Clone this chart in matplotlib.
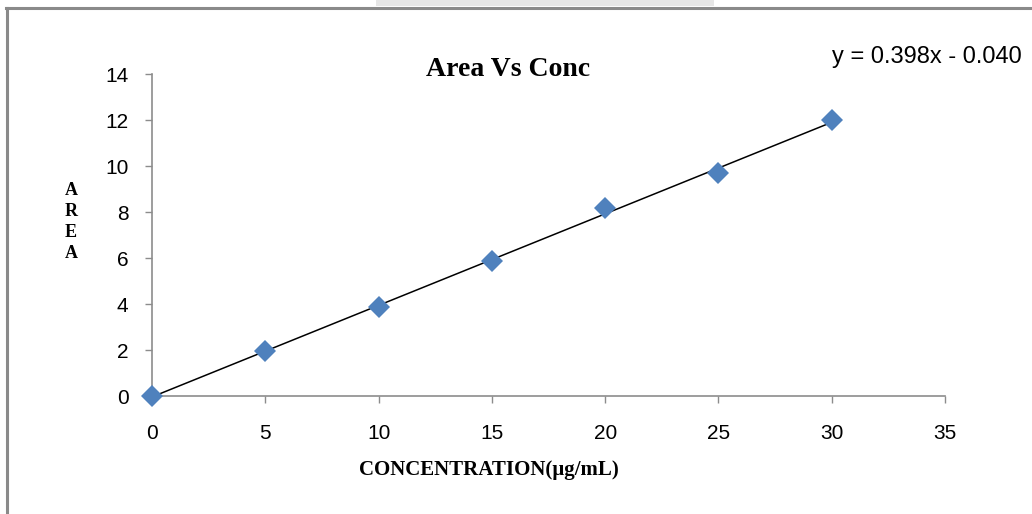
import matplotlib.pyplot as plt
import numpy as np
from matplotlib.lines import Line2D
from matplotlib.patches import Rectangle

plt.switch_backend("Agg")

# values
concentration = [0, 5, 10, 15, 20, 25, 30]
area = [0.0, 1.96, 3.87, 5.87, 8.17, 9.70, 12.0]
slope = 0.398
intercept = -0.040
x_ticks = [0, 5, 10, 15, 20, 25, 30, 35]
y_ticks = [0, 2, 4, 6, 8, 10, 12, 14]

SANS = "Liberation Sans"
SERIF = "Liberation Serif"
SPINE = "#8c8c8c"

fig = plt.figure(figsize=(10.32, 5.14), dpi=100)
ax = fig.add_axes([152 / 1032, 1 - 396 / 514, (945 - 152) / 1032, (396 - 74) / 514])

fit_x = np.array([concentration[0], concentration[-1]])
ax.plot(fit_x, slope * fit_x + intercept, color="black", linewidth=1.1, zorder=2)
ax.plot(concentration, area, linestyle="none", marker="D", markersize=11,
        color="#4f81bd", markeredgewidth=0, clip_on=False, zorder=3)

ax.set_xlim(0, 35)
ax.set_ylim(0, 14)
ax.set_xticks(x_ticks)
ax.set_yticks(y_ticks)
ax.set_xticklabels([str(v) for v in x_ticks], fontfamily=SANS, fontsize=15)
ax.set_yticklabels([str(v) for v in y_ticks], fontfamily=SANS, fontsize=15)
ax.tick_params(axis="x", direction="out", length=5, width=1, color=SPINE, pad=15)
ax.tick_params(axis="y", direction="out", length=5, width=1, color=SPINE, pad=12)
for side in ("top", "right"):
    ax.spines[side].set_visible(False)
for side in ("left", "bottom"):
    ax.spines[side].set_color(SPINE)
    ax.spines[side].set_linewidth(1.2)

fig.text(508 / 1032, 1 - 70 / 514, "Area Vs Conc", ha="center", va="center",
         fontfamily=SERIF, fontweight="bold", fontsize=20)
fig.text(1022 / 1032, 1 - 57 / 514, "y = 0.398x - 0.040", ha="right", va="center",
         fontfamily=SANS, fontsize=17)
fig.text(71 / 1032, 1 - 222 / 514, "A\nR\nE\nA", ha="center", va="center",
         fontfamily=SERIF, fontweight="bold", fontsize=13, linespacing=1.3)
fig.text(489 / 1032, 1 - 470 / 514, "CONCENTRATION(\u00b5g/mL)", ha="center", va="center",
         fontfamily=SERIF, fontweight="bold", fontsize=15)

# outer chart frame and the faint tab at the top
fig.add_artist(Line2D([7 / 1032, 7 / 1032], [0, 1 - 8 / 514], transform=fig.transFigure,
                      color="#8a8a8a", linewidth=2.2))
fig.add_artist(Line2D([6 / 1032, 1], [1 - 8 / 514, 1 - 8 / 514], transform=fig.transFigure,
                      color="#8a8a8a", linewidth=2.2))
fig.add_artist(Rectangle((376 / 1032, 1 - 6 / 514), (714 - 376) / 1032, 6 / 514,
                         transform=fig.transFigure, facecolor="#e6e6e6", edgecolor="none"))

fig.savefig("out.png", dpi=100)
